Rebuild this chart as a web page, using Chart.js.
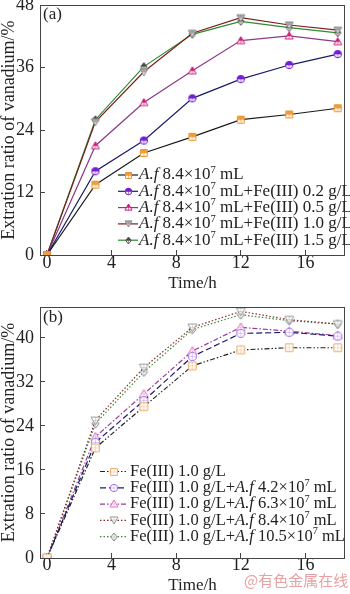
<!DOCTYPE html>
<html><head><meta charset="utf-8">
<script src="https://cdn.jsdelivr.net/npm/chart.js@4.4.1/dist/chart.umd.min.js"></script>
<style>
html,body{margin:0;padding:0;background:#fff;}
body{width:350px;height:594px;position:relative;overflow:hidden;}
#wa{position:absolute;left:0;top:0;width:350px;height:292px;}
#wb{position:absolute;left:0;top:295px;width:350px;height:299px;}
#wm{position:absolute;left:244px;top:570px;font-family:"Noto Sans CJK SC",sans-serif;font-size:15px;color:#e8a0a0;white-space:nowrap;line-height:20px;}
</style></head>
<body>
<div id="wa"><canvas id="ca" width="350" height="292"></canvas></div>
<div id="wb"><canvas id="cb" width="350" height="299"></canvas></div>
<div id="wm">@有色金属在线</div>
<script>
// ---------- data ----------
const timeH = [0, 3, 6, 9, 12, 15, 18];
const xTickValues = [0, 4, 8, 12, 16];
const yTicksA = [0, 12, 24, 36, 48];
const yTicksB = [0, 8, 16, 24, 32, 40];

const labelsA = [
  "_A.f_ 8.4×10^7 mL",
  "_A.f_ 8.4×10^7 mL+Fe(III) 0.2 g/L",
  "_A.f_ 8.4×10^7 mL+Fe(III) 0.5 g/L",
  "_A.f_ 8.4×10^7 mL+Fe(III) 1.0 g/L",
  "_A.f_ 8.4×10^7 mL+Fe(III) 1.5 g/L"
];
const a1 = [0, 13.5, 19.6, 22.7, 26.0, 27.0, 28.2];
const a2 = [0, 16.1, 22.0, 30.1, 33.8, 36.5, 38.6];
const a3 = [0, 21.0, 29.3, 35.4, 41.2, 42.1, 41.0];
const a4 = [0, 25.6, 35.2, 42.6, 45.6, 44.2, 43.2];
const a5 = [0, 26.0, 36.2, 42.4, 44.9, 43.7, 42.7];

const labelsB = [
  "Fe(III) 1.0 g/L",
  "Fe(III) 1.0 g/L+_A.f_ 4.2×10^7 mL",
  "Fe(III) 1.0 g/L+_A.f_ 6.3×10^7 mL",
  "Fe(III) 1.0 g/L+_A.f_ 8.4×10^7 mL",
  "Fe(III) 1.0 g/L+_A.f_ 10.5×10^7 mL"
];
const b1 = [0, 20.0, 27.5, 34.9, 37.8, 38.2, 38.2];
const b2 = [0, 21.0, 28.6, 36.6, 40.8, 41.0, 40.3];
const b3 = [0, 22.0, 29.8, 37.6, 41.9, 41.2, 40.4];
const b4 = [0, 25.0, 34.6, 41.9, 44.8, 43.3, 42.5];
const b5 = [0, 24.4, 33.8, 41.5, 44.2, 43.1, 42.5];

// ---------- helpers ----------
const SERIF = '"Liberation Serif","Times New Roman",serif';
Chart.defaults.font.family = SERIF;
Chart.defaults.color = '#222';

function makeMarker(shape, fill, stroke, mode, size) {
  const W = size + 2;
  const c = document.createElement('canvas');
  c.width = W; c.height = W;
  const g = c.getContext('2d');
  const m = W / 2, r = size / 2;
  function path() {
    g.beginPath();
    if (shape === 'square') { g.rect(m - r * 0.85, m - r * 0.85, r * 1.7, r * 1.7); }
    else if (shape === 'circle') { g.arc(m, m, r * 0.92, 0, Math.PI * 2); }
    else if (shape === 'tri') { g.moveTo(m, m - r); g.lineTo(m + r, m + r * 0.75); g.lineTo(m - r, m + r * 0.75); g.closePath(); }
    else if (shape === 'itri') { g.moveTo(m, m + r); g.lineTo(m + r, m - r * 0.75); g.lineTo(m - r, m - r * 0.75); g.closePath(); }
    else if (shape === 'diamond') { g.moveTo(m, m - r); g.lineTo(m + r * 0.8, m); g.lineTo(m, m + r); g.lineTo(m - r * 0.8, m); g.closePath(); }
  }
  g.fillStyle = '#fff'; path(); g.fill();
  if (mode === 'half') {
    g.save(); path(); g.clip();
    g.fillStyle = fill; g.fillRect(0, 0, W, m);
    g.restore();
  }
  g.save(); path(); g.clip();
  g.strokeStyle = stroke; g.globalAlpha = mode === 'half' ? 0.8 : 0.5; g.lineWidth = 0.7;
  g.beginPath(); g.moveTo(m, 0); g.lineTo(m, W); g.moveTo(0, m); g.lineTo(W, m); g.stroke();
  g.restore();
  g.strokeStyle = stroke; g.lineWidth = 1; path(); g.stroke();
  return c;
}

function pts(vals) { return vals.map((v, i) => ({ x: timeH[i], y: v })); }

function ds(label, vals, line, dash, marker, legendMarker) {
  return {
    label: label, data: pts(vals), borderColor: line, borderWidth: 1.2, borderDash: dash,
    pointStyle: marker, legendMarker: legendMarker, pointRadius: 4, pointHoverRadius: 4, tension: 0, fill: false
  };
}

// legend drawing with mixed italic / superscript
function drawRich(ctx, text, x, y, size) {
  const parts = [];
  let i = 0, buf = '', italic = false;
  while (i < text.length) {
    const ch = text[i];
    if (ch === '_') { if (buf) parts.push({ t: buf, it: italic, sup: false }); buf = ''; italic = !italic; i++; continue; }
    if (ch === '^') { if (buf) parts.push({ t: buf, it: italic, sup: false }); buf = ''; parts.push({ t: text[i + 1], it: italic, sup: true }); i += 2; continue; }
    buf += ch; i++;
  }
  if (buf) parts.push({ t: buf, it: italic, sup: false });
  ctx.textBaseline = 'middle'; ctx.textAlign = 'left'; ctx.fillStyle = '#222';
  for (const p of parts) {
    const fs = p.sup ? size * 0.62 : size;
    ctx.font = (p.it ? 'italic ' : '') + fs + 'px ' + SERIF;
    ctx.fillText(p.t, x, p.sup ? y - size * 0.3 : y);
    x += ctx.measureText(p.t).width;
  }
}

const frameAndLegend = {
  id: 'frameAndLegend',
  afterDraw(chart, args, opts) {
    const ctx = chart.ctx, a = chart.chartArea;
    ctx.save();
    ctx.strokeStyle = '#444'; ctx.lineWidth = 1;
    ctx.strokeRect(Math.round(a.left) + 0.5, Math.round(a.top) + 0.5, Math.round(a.right - a.left) - 1, Math.round(a.bottom - a.top));
    // panel tag
    ctx.font = '17px ' + SERIF; ctx.fillStyle = '#222'; ctx.textBaseline = 'middle'; ctx.textAlign = 'left';
    ctx.fillText(opts.tag, a.left + 3, opts.tagY);
    // legend
    chart.data.datasets.forEach((d, k) => {
      const y = opts.y0 + k * opts.dy;
      ctx.save();
      ctx.strokeStyle = d.borderColor; ctx.lineWidth = 1.2; ctx.setLineDash(d.borderDash || []);
      ctx.beginPath(); ctx.moveTo(opts.x0, y); ctx.lineTo(opts.x1, y); ctx.stroke();
      ctx.restore();
      const img = d.legendMarker;
      ctx.drawImage(img, Math.round((opts.x0 + opts.x1) / 2 - img.width / 2), Math.round(y - img.height / 2));
      drawRich(ctx, d.label, opts.tx, y, opts.fs);
    });
    ctx.restore();
  }
};

function scales(yTicks, ymax, xH, xlabPad) {
  return {
    x: {
      type: 'linear', min: -0.43, max: 18.44,
      afterBuildTicks: s => { s.ticks = xTickValues.map(v => ({ value: v })); },
      afterFit: s => { s.height = xH; s.paddingLeft = 0; s.paddingRight = 0; },
      ticks: { font: { size: 18 }, color: '#222', padding: xlabPad, maxRotation: 0 },
      grid: { drawOnChartArea: false, drawTicks: true, tickLength: -5, color: '#444' },
      border: { display: true, color: '#444' },
      title: { display: true, text: 'Time/h', font: { size: 17, lineHeight: 1 }, padding: { top: 0, bottom: 0 }, color: '#222' }
    },
    y: {
      min: 0, max: ymax,
      afterBuildTicks: s => { s.ticks = yTicks.map(v => ({ value: v })); },
      afterFit: s => { s.width = 40; s.paddingTop = 0; s.paddingBottom = 0; },
      ticks: { font: { size: 18 }, color: '#222', padding: 11 },
      grid: { drawOnChartArea: false, drawTicks: true, tickLength: -5, color: '#444' },
      border: { display: true, color: '#444' },
      title: { display: true, text: 'Extration ratio of vanadium/%', font: { size: 18, lineHeight: 1 }, padding: { top: 0, bottom: 0 }, color: '#222' }
    }
  };
}

// ---------- chart (a) ----------
const mAspec = [
  ['square', '#f3a23c', '#e8902a'],
  ['circle', '#7a1fe0', '#6a18c8'],
  ['tri', '#d8207e', '#c81a72'],
  ['itri', '#b0b0b0', '#888'],
  ['diamond', '#404040', '#555']
];
const mA = mAspec.map(s => makeMarker(s[0], s[1], s[2], 'half', 8));
const lA = mAspec.map(s => makeMarker(s[0], s[1], s[2], 'half', 7));
new Chart(document.getElementById('ca'), {
  type: 'line',
  data: {
    datasets: [
      ds(labelsA[0], a1, '#1a1a1a', [], mA[0], lA[0]),
      ds(labelsA[1], a2, '#1c1c6a', [], mA[1], lA[1]),
      ds(labelsA[2], a3, '#8b3a8b', [], mA[2], lA[2]),
      ds(labelsA[3], a4, '#7a1f1f', [], mA[3], lA[3]),
      ds(labelsA[4], a5, '#2e8b2e', [], mA[4], lA[4])
    ]
  },
  options: {
    responsive: false, animation: false, devicePixelRatio: 1,
    layout: { padding: { left: 0, right: 1, top: 2, bottom: 0 } },
    plugins: {
      legend: { display: false }, tooltip: { enabled: false },
      frameAndLegend: { tag: '(a)', tagY: 15, x0: 118, x1: 138, tx: 139, y0: 175, dy: 16.3, fs: 17 }
    },
    scales: scales(yTicksA, 48, 37, 2)
  },
  plugins: [frameAndLegend]
});

// ---------- chart (b) ----------
const mBspec = [
  ['square', '#fff', '#f0a860'],
  ['circle', '#fff', '#a070e8'],
  ['tri', '#fff', '#e070c0'],
  ['itri', '#fff', '#999'],
  ['diamond', '#fff', '#888']
];
const mB = mBspec.map(s => makeMarker(s[0], s[1], s[2], 'hollow', 9));
const lB = mBspec.map(s => makeMarker(s[0], s[1], s[2], 'hollow', 8));
new Chart(document.getElementById('cb'), {
  type: 'line',
  data: {
    datasets: [
      ds(labelsB[0], b1, '#222', [5, 2, 1.5, 2, 1.5, 2], mB[0], lB[0]),
      ds(labelsB[1], b2, '#1c1c6a', [6, 3], mB[1], lB[1]),
      ds(labelsB[2], b3, '#9a3a9a', [5, 2, 1.5, 2], mB[2], lB[2]),
      ds(labelsB[3], b4, '#8a2a2a', [1.5, 2], mB[3], lB[3]),
      ds(labelsB[4], b5, '#3a8a3a', [1.5, 2], mB[4], lB[4])
    ]
  },
  options: {
    responsive: false, animation: false, devicePixelRatio: 1,
    layout: { padding: { left: 0, right: 1, top: 12, bottom: 0 } },
    plugins: {
      legend: { display: false }, tooltip: { enabled: false },
      frameAndLegend: { tag: '(b)', tagY: 23, x0: 100, x1: 127, tx: 130, y0: 176.5, dy: 16.3, fs: 16.5 }
    },
    scales: scales(yTicksB, 45.6, 36, 1)
  },
  plugins: [frameAndLegend]
});
</script>
</body></html>
